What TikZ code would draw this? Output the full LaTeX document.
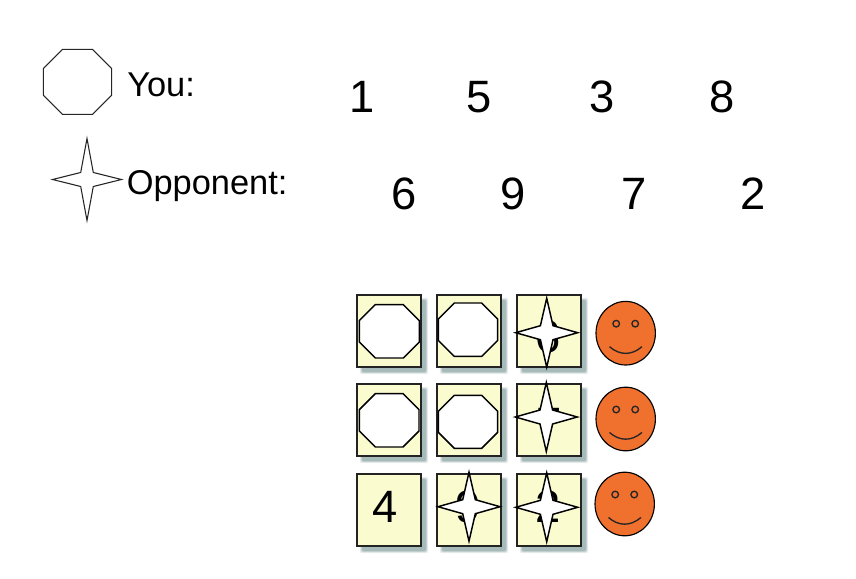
\documentclass[tikz,border=0pt]{standalone}
\usepackage{fontspec}
\setmainfont{Liberation Sans}
\definecolor{cellfill}{RGB}{251,251,208}
\definecolor{shadowc}{RGB}{150,172,172}
\definecolor{smile}{RGB}{240,112,46}
\definecolor{inkc}{RGB}{35,35,35}
\tikzset{
  x=0.75pt,y=-0.75pt,
  legendtext/.style={font=\fontsize{25.8}{28}\selectfont,inner sep=0pt,anchor=base west,text=black},
  numtext/.style={font=\fontsize{34}{38}\selectfont,inner sep=0pt,anchor=base,text=black},
  celltext/.style={font=\fontsize{34}{38}\selectfont,inner sep=0pt,anchor=base,text=black},
  cellbox/.style={draw=inkc,line width=1.7pt,fill=cellfill,outer sep=0pt,inner sep=0pt,minimum width=48pt,minimum height=54pt,anchor=north west},
  mark shape/.style={draw=black,line width=1.1pt,fill=white,line join=miter},
  legend shape/.style={draw=black!85,line width=0.8pt,fill=white,line join=miter},
  face/.style={draw=black,line width=0.85pt,fill=smile},
  facefeature/.style={draw=black!85,line width=1pt}
}
% octagon: centre x, y, half-width, half-height, corner cut, style
\newcommand{\octa}[6]{\draw[#6] (#1-#3,#2-#4+#5) -- (#1-#3+#5,#2-#4) -- (#1+#3-#5,#2-#4) -- (#1+#3,#2-#4+#5) -- (#1+#3,#2+#4-#5) -- (#1+#3-#5,#2+#4) -- (#1-#3+#5,#2+#4) -- (#1-#3,#2+#4-#5) -- cycle;}
% star: centre x, y, half-width, half-height, style
\newcommand{\fourstar}[5]{\draw[#5] (#1,#2-#4) -- (#1+6.3,#2-7) -- (#1+#3,#2) -- (#1+6.3,#2+7) -- (#1,#2+#4) -- (#1-6.3,#2+7) -- (#1-#3,#2) -- (#1-6.3,#2-7) -- cycle;}
% cell: name, left, top, digit, digit x, digit baseline
\newcommand{\gamecell}[6]{%
  \foreach \g/\o in {2.2/.18,1.4/.28,0.6/.38,0/.55}{\fill[shadowc,opacity=\o,rounded corners=1pt] (#2+5-\g,#3+5-\g) rectangle (#2+69+\g,#3+77+\g);}
  \node[cellbox] (#1) at (#2,#3) {};
  \node[celltext] (#1d) at (#5,#6) {#4};
}
\newcommand{\smiley}[3]{%
  \draw[face] (#2,#3) ellipse (29.7 and 31.8);
  \node[inner sep=0pt,minimum size=0pt] (#1) at (#2,#3) {};
  \draw[facefeature] (#2-9.5,#3-9.5) circle (3.3);
  \draw[facefeature] (#2+9.5,#3-9.5) circle (3.3);
  \draw[facefeature] (#2-16.2,#3+13.5) .. controls (#2-6,#3+22.4) and (#2+6,#3+22.4) .. (#2+16.2,#3+13.5);
}
\begin{document}
\begin{tikzpicture}
\useasboundingbox (0,0) rectangle (856,578);
% legend
\octa{77.5}{81.8}{34.2}{32.5}{19.2}{legend shape}
\fourstar{87}{179.5}{34.5}{41}{legend shape}
\node[legendtext] (you) at (127,96) {You:};
\node[legendtext] (opp) at (126.5,194) {Opponent:};
% numbers
\node[numtext] (y1) at (362.5,112) {1};
\node[numtext] (y2) at (479,112) {5};
\node[numtext] (y3) at (602.5,112) {3};
\node[numtext] (y4) at (722,112) {8};
\node[numtext] (o1) at (404.5,209) {6};
\node[numtext] (o2) at (513,209) {9};
\node[numtext] (o3) at (634.5,209) {7};
\node[numtext] (o4) at (753,209) {2};
% grid
\gamecell{a1}{357}{295}{8}{385}{352}
\gamecell{a2}{437}{295}{1}{465}{352}
\gamecell{a3}{517}{295}{6}{548}{352}
\gamecell{b1}{357}{384}{3}{385}{439}
\gamecell{b2}{437}{384}{5}{465}{439}
\gamecell{b3}{517}{384}{7}{549}{439}
\gamecell{c1}{357}{474}{4}{385}{522}
\gamecell{c2}{437}{474}{9}{468}{522}
\gamecell{c3}{517}{474}{2}{548}{522}
% marks
\octa{389.3}{331.3}{30}{26.7}{16}{mark shape}
\octa{468}{329.7}{29.7}{26.7}{16}{mark shape}
\fourstar{546.7}{332.7}{31}{34.5}{mark shape}
\octa{389.2}{420.3}{29.8}{26.7}{16}{mark shape}
\octa{468}{421.8}{29.7}{26.5}{16}{mark shape}
\fourstar{546.3}{417}{31}{34.5}{mark shape}
\fourstar{469}{506.7}{31}{34.5}{mark shape}
\fourstar{546.7}{507.3}{31}{34.5}{mark shape}
% faces
\smiley{f1}{625.7}{333.2}
\smiley{f2}{625.7}{419}
\smiley{f3}{624.7}{504}
\end{tikzpicture}
\end{document}
